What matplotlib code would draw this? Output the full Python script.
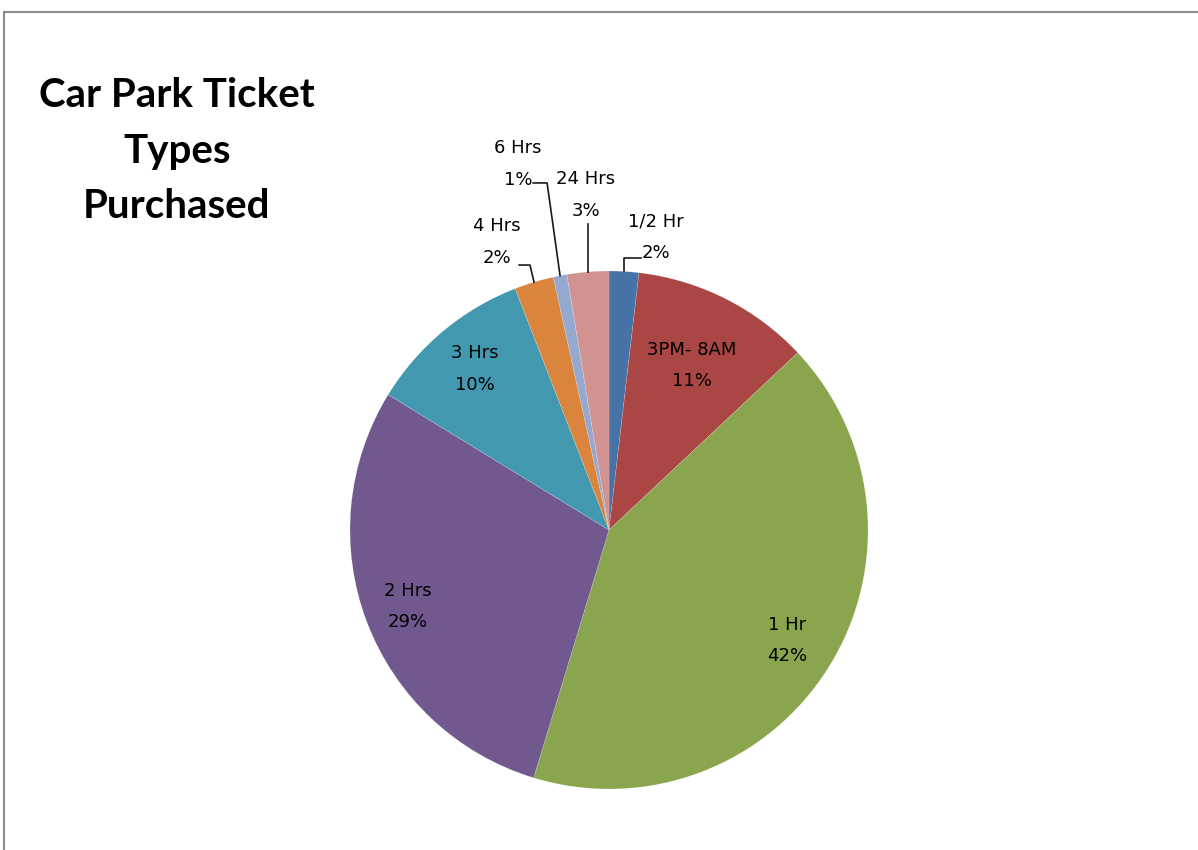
import numpy as np
import matplotlib
matplotlib.use("Agg")
from matplotlib import pyplot as plt
from matplotlib.lines import Line2D

# ticket types, clockwise from 12 o'clock
ticket_types = ['1/2 Hr', '3PM- 8AM', '1 Hr', '2 Hrs', '3 Hrs', '4 Hrs', '6 Hrs', '24 Hrs']
share_pct = [1.85, 11.15, 41.7, 29.05, 10.35, 2.45, 0.85, 2.6]
slice_colors = ['#4572A7', '#AA4643', '#89A54E', '#71588F', '#4198AF', '#DB843D', '#93A9CF', '#D19392']

fig = plt.figure(figsize=(11.98, 8.5), dpi=100)
fig.patch.set_facecolor('white')

# pie centre ~ (609, 530) px, radius ~259 px
cx, cy, R = 609, 530, 259
W, H = 1198, 850
ax = fig.add_axes([(cx - R) / W, (H - cy - R) / H, 2 * R / W, 2 * R / H])
wedges, _ = ax.pie(share_pct, colors=slice_colors, startangle=90, counterclock=False,
                   radius=1, wedgeprops=dict(linewidth=0.3, edgecolor=(1, 1, 1, 0.35)))
ax.set_xlim(-1, 1)
ax.set_ylim(-1, 1)
ax.set_aspect('equal')
ax.axis('off')

lbl_font = dict(family='DejaVu Sans', fontsize=13, color='black', linespacing=1.95)

def mid_angle(w):
    return np.deg2rad((w.theta1 + w.theta2) / 2)

# inside labels: distance from centre
inside_r = {'3PM- 8AM': 0.71, '1 Hr': 0.81, '2 Hrs': 0.83, '3 Hrs': 0.81}
# outside labels: text centre and leader elbows (axes data units)
outside = {
    '1/2 Hr': dict(pos=(0.181, 1.131), path=[(None, 1.05), (0.124, 1.05)]),
    '4 Hrs': dict(pos=(-0.432, 1.112), path=[(-0.305, 1.023), (-0.347, 1.023)]),
    '6 Hrs': dict(pos=(-0.351, 1.413), path=[(-0.239, 1.340), (-0.293, 1.340)]),
    '24 Hrs': dict(pos=(-0.089, 1.293), path=[(None, 1.181)]),
}

for w, name, v in zip(wedges, ticket_types, share_pct):
    txt = '%s\n%d%%' % (name, int(round(v)))
    a = mid_angle(w)
    if name in inside_r:
        r = inside_r[name]
        ax.text(r * np.cos(a), r * np.sin(a), txt, ha='center', va='center', **lbl_font)
    else:
        o = outside[name]
        ax.text(o['pos'][0], o['pos'][1], txt, ha='center', va='center',
                clip_on=False, **lbl_font)
        x0, y0 = np.cos(a), np.sin(a)
        xs, ys = [x0], [y0]
        for px, py in o['path']:
            xs.append(x0 if px is None else px)
            ys.append(py)
        ax.plot(xs, ys, color='#1a1a1a', lw=1.2, clip_on=False)

# title
fig.text(177 / W, 1 - 151 / H, 'Car Park Ticket\nTypes\nPurchased', ha='center', va='center',
         fontsize=29, fontweight='bold', family='Lato', linespacing=1.62)

# chart area frame (top and left edges visible)
fig.add_artist(Line2D([4 / W, 1], [1 - 12 / H, 1 - 12 / H], transform=fig.transFigure,
                      color='#8c8c8c', lw=1.5))
fig.add_artist(Line2D([4 / W, 4 / W], [0, 1 - 12 / H], transform=fig.transFigure,
                      color='#8c8c8c', lw=1.5))

fig.savefig('out.png', dpi=100, facecolor='white')
